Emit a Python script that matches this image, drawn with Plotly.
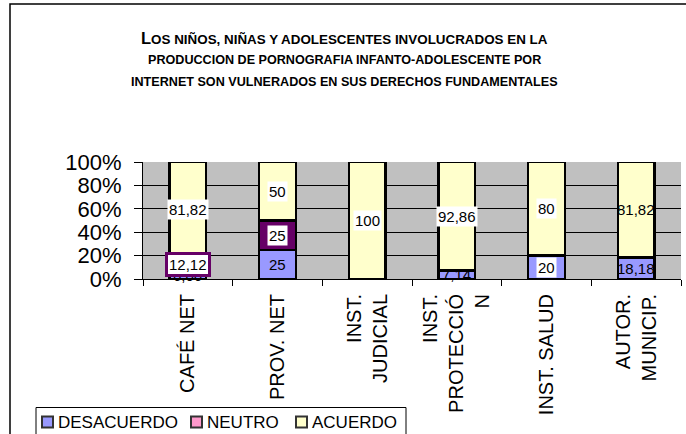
import plotly.graph_objects as go

# ---- data ----
categories = ["CAFÉ NET", "PROV. NET", "INST.<br>JUDICIAL", "INST.<br>PROTECCIÓ<br>N",
              "INST. SALUD", "AUTOR.<br>MUNICIP."]
desacuerdo = [6.06, 25, 0, 7.14, 20, 18.18]
neutro = [12.12, 25, 0, 0, 0, 0]
acuerdo = [81.82, 50, 100, 92.86, 80, 81.82]
series_names = ["DESACUERDO", "NEUTRO", "ACUERDO"]
y_ticks = [0, 20, 40, 60, 80, 100]
y_tick_labels = ["0%", "20%", "40%", "60%", "80%", "100%"]

bar_colors = ["#9999FF", "#660066", "#FFFFCC"]
legend_colors = ["#9999FF", "#FF99CC", "#FFFFCC"]
FONT = "Arial, 'Liberation Sans', sans-serif"

# label appearance: 'white' = white box, 'none' = no box, 'purple' = white box with purple frame
label_style = {
    "DESACUERDO": ["none", "none", "none", "none", "white", "none"],
    "NEUTRO": ["purple", "white", "none", "none", "none", "none"],
    "ACUERDO": ["white", "white", "white", "white", "white", "none"],
}

fig = go.Figure()
all_series = [desacuerdo, neutro, acuerdo]
for name, vals, col in zip(series_names, all_series, bar_colors):
    fig.add_trace(go.Bar(
        x=categories, y=vals, name=name, marker_color=col,
        marker_line=dict(color="black", width=2.5), width=0.41,
        showlegend=False, hoverinfo="skip",
    ))

def fmt(v):
    return f"{v:g}".replace(".", ",")

annotations = []
base = [0.0] * len(categories)
for name, vals in zip(series_names, all_series):
    for i, v in enumerate(vals):
        if v > 0:
            st = label_style[name][i]
            ann = dict(x=categories[i], y=base[i] + v / 2, xref="x", yref="y",
                       text=fmt(v), showarrow=False,
                       font=dict(family=FONT, size=15, color="black"), borderpad=1)
            if st == "white":
                ann["bgcolor"] = "white"
            elif st == "purple":
                ann["bgcolor"] = "white"
                ann["bordercolor"] = "#660066"
                ann["borderwidth"] = 3
            annotations.append(ann)
        base[i] += v

# plot area spans x px 143..681, y px 162..279
def ypaper(px):
    return (279 - px) / 117.0

def xpaper(px):
    return (px - 143) / 538.0

title_lines = [
    ("<b><span style='font-size:16.5px'>L</span>OS NIÑOS, NIÑAS Y ADOLESCENTES INVOLUCRADOS EN LA</b>", 13.4),
    ("<b>PRODUCCION DE PORNOGRAFIA INFANTO-ADOLESCENTE POR</b>", 12.6),
    ("<b>INTERNET SON VULNERADOS EN SUS DERECHOS FUNDAMENTALES</b>", 12.6),
]
for (t, fs), py in zip(title_lines, [38, 60, 82]):
    annotations.append(dict(x=xpaper(344), y=ypaper(py), xref="paper", yref="paper",
                            text=t, showarrow=False, xanchor="center", yanchor="middle",
                            font=dict(family=FONT, size=fs, color="black")))

shapes = [dict(type="rect", xref="paper", yref="paper",
               x0=xpaper(10), x1=xpaper(700), y0=ypaper(4), y1=ypaper(460),
               line=dict(color="black", width=1.5), fillcolor="rgba(0,0,0,0)", layer="below")]

# legend box (series names and colours from the data lists)
shapes.append(dict(type="rect", xref="paper", yref="paper",
                   x0=xpaper(36), x1=xpaper(406), y0=ypaper(407.5), y1=ypaper(460),
                   line=dict(color="black", width=1), fillcolor="white", layer="above"))
legend_x = [42, 191, 296]
for name, col, lx in zip(series_names, legend_colors, legend_x):
    shapes.append(dict(type="rect", xref="paper", yref="paper",
                       x0=xpaper(lx), x1=xpaper(lx + 11), y0=ypaper(416.5), y1=ypaper(427.5),
                       line=dict(color="#333333", width=2), fillcolor=col, layer="above"))
    annotations.append(dict(x=xpaper(lx + 14), y=ypaper(422), xref="paper", yref="paper",
                            text=name, showarrow=False, xanchor="left", yanchor="middle",
                            font=dict(family=FONT, size=17, color="black")))

fig.update_layout(
    width=686, height=434, autosize=False,
    margin=dict(l=143, r=5, t=162, b=155, autoexpand=False),
    barmode="stack", bargap=0.59, showlegend=False,
    plot_bgcolor="#C0C0C0", paper_bgcolor="white",
    font=dict(family=FONT, color="black"),
    annotations=annotations, shapes=shapes,
    xaxis=dict(type="category", tickangle=-90, tickson="boundaries",
               ticks="outside", ticklen=6, tickcolor="black",
               showline=True, linecolor="black", linewidth=1,
               showgrid=False, tickfont=dict(family=FONT, size=20, color="black"),
               ticklabelstandoff=6, fixedrange=True, automargin=False),
    yaxis=dict(range=[0, 100], tickmode="array", tickvals=y_ticks, ticktext=y_tick_labels,
               ticks="outside", ticklen=8, tickcolor="black",
               showline=True, linecolor="black", linewidth=1,
               showgrid=True, gridcolor="black", gridwidth=1,
               tickfont=dict(family=FONT, size=22, color="black"),
               ticklabelstandoff=8, fixedrange=True, zeroline=False, automargin=False),
)

fig.write_html("out.html", config={"displayModeBar": False},
               post_script="document.body.style.margin='0px';document.body.style.overflow='hidden';")
